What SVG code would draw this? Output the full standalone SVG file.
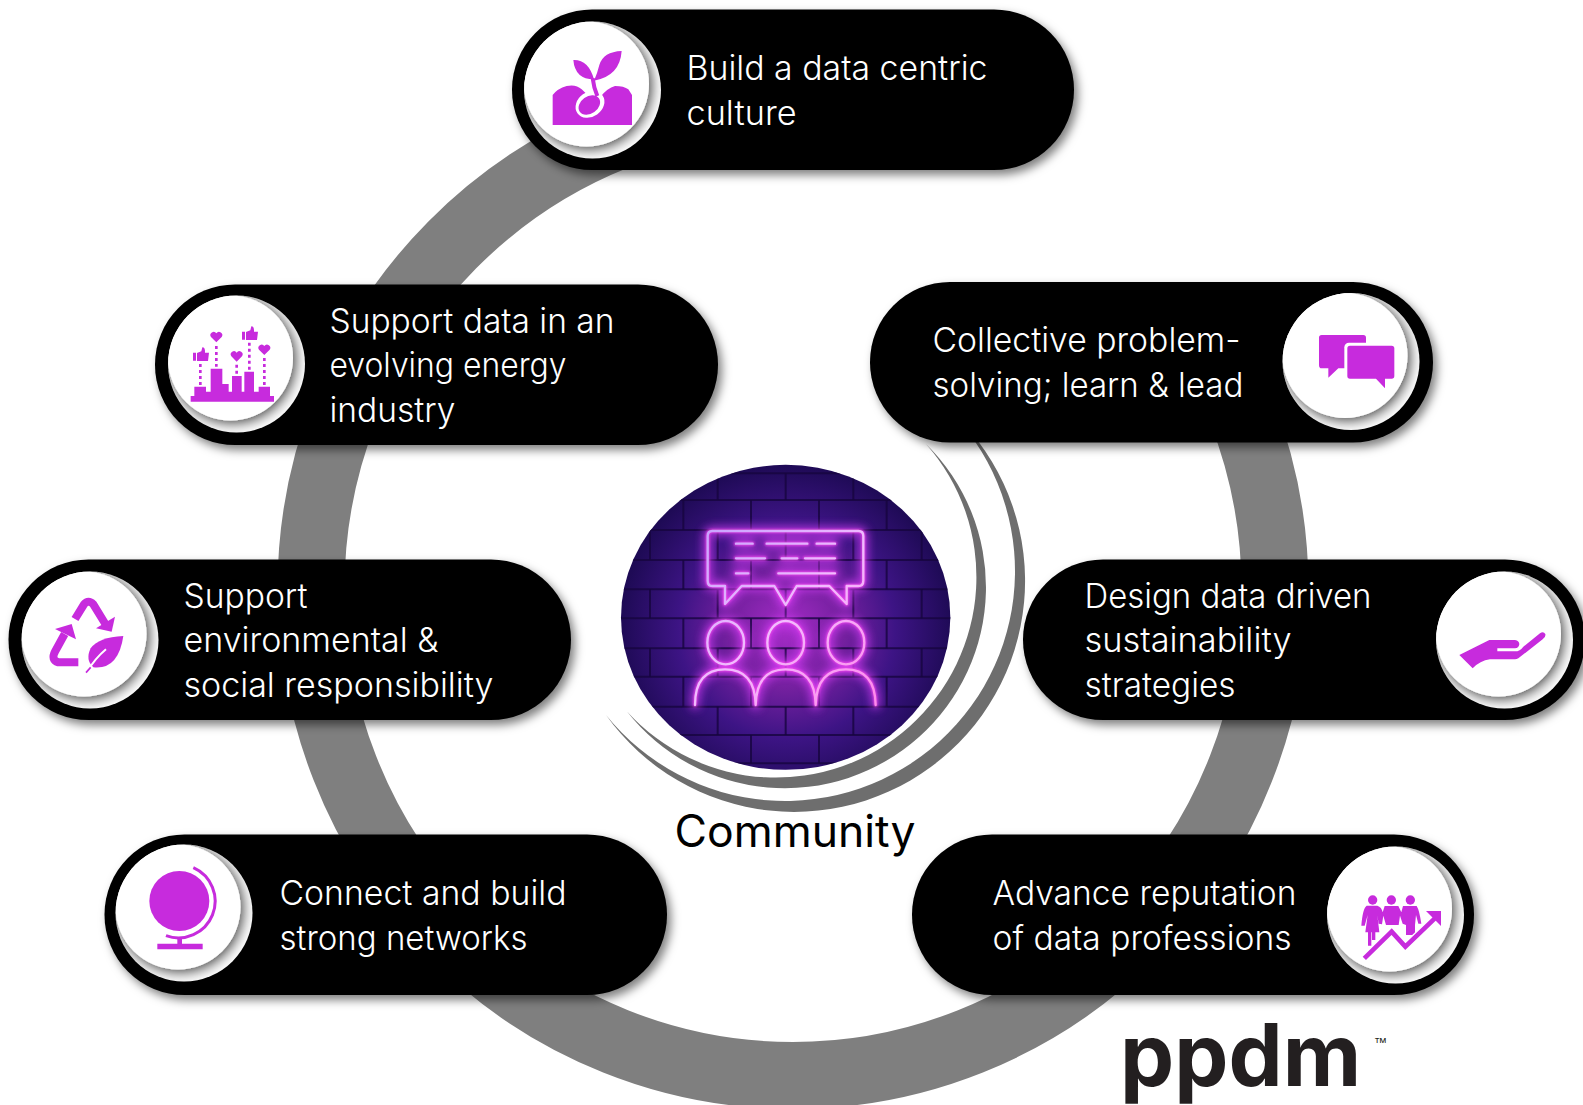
<svg xmlns="http://www.w3.org/2000/svg" width="1583" height="1105" viewBox="0 0 1583 1105">
<style>
.pill{fill:#000;filter:url(#pillShadow)}
.lbl{font-family:"Inter","Liberation Sans",sans-serif;font-weight:300;font-size:34px;fill:#fff}
.ic{fill:#c72bdd}
.ics{fill:none;stroke:#c72bdd}
.wh{fill:#fff}
.neon{fill:none;stroke-linecap:round;stroke-linejoin:round}
.brick{fill:none;stroke:#16053f;stroke-width:6;opacity:.8}
</style>
<defs>
<filter id="pillShadow" x="-10%" y="-20%" width="120%" height="150%"><feDropShadow dx="4" dy="5" stdDeviation="5" flood-color="#000" flood-opacity=".5"/></filter>
<filter id="discShadow" x="-30%" y="-30%" width="170%" height="170%"><feDropShadow dx="2" dy="2" stdDeviation="7" flood-color="#000" flood-opacity=".8"/></filter>
<filter id="soft" x="-5%" y="-5%" width="110%" height="110%"><feGaussianBlur stdDeviation=".7"/></filter>
<filter id="glow" x="-30%" y="-30%" width="160%" height="160%"><feGaussianBlur stdDeviation="14"/></filter>
<filter id="bl" x="-30%" y="-30%" width="160%" height="160%"><feGaussianBlur stdDeviation="3"/></filter>
<clipPath id="badgeClip"><circle r="68.5"/></clipPath>
<clipPath id="imgClip"><ellipse cx="587" cy="562" rx="494" ry="457.5"/></clipPath>
<clipPath id="ringClip"><path d="M0 0H700V360H1583V1105H0Z"/></clipPath>
<g id="badge"><circle r="68.5" class="wh"/><g clip-path="url(#badgeClip)"><circle cx="-6" cy="-6" r="62.5" class="wh" filter="url(#discShadow)"/></g></g>
<radialGradient id="wall" gradientUnits="userSpaceOnUse" cx="590" cy="600" r="500"><stop offset="0" stop-color="#a52cc8"/><stop offset=".35" stop-color="#74209f"/><stop offset=".65" stop-color="#3d1485"/><stop offset="1" stop-color="#1e0a55"/></radialGradient>
<linearGradient id="neonG" gradientUnits="userSpaceOnUse" x1="350" y1="300" x2="820" y2="830"><stop offset="0" stop-color="#c9a4ff"/><stop offset=".5" stop-color="#f2bcff"/><stop offset="1" stop-color="#ff8bec"/></linearGradient>
<g id="neonArt">
<path d="M367 303H805Q820 303 820 318V452Q820 468 805 468H770V522L718 468H620L587 525L553 468H455L405 522V468H367Q353 468 353 452V318Q353 303 367 303Z"/>
<path d="M438 341H488M530 341H652M680 341H735M438 385H525M575 385H622M645 385H735M438 430H475M565 430H735"/>
<ellipse cx="407" cy="638" rx="55" ry="65"/><ellipse cx="587" cy="638" rx="55" ry="65"/><ellipse cx="768" cy="638" rx="55" ry="65"/>
<path d="M315 825Q315 718 405 718Q495 718 497 825M497 825Q500 718 587 718Q675 718 677 825M677 825Q680 718 768 718Q855 718 857 825"/>
</g>
<path id="heart" d="M0 17L-16 1A9.5 9.5 0 0 1 0-10A9.5 9.5 0 0 1 16 1Z"/>
<path id="thumb" d="M-24-11H-15V13H-24ZM-12-10L1-15L4-27Q13-27 12-11H24L21 14H-12Z"/>
</defs>

<rect width="1583" height="1105" fill="#fff"/>

<g id="connectors">
<ellipse cx="793" cy="589" rx="482" ry="486.5" fill="none" stroke="#7f7f7f" stroke-width="67" clip-path="url(#ringClip)"/>
</g>

<g id="center-node">
<path d="M945 406A231 231 0 1 1 606 715A229.8 229.8 0 1 0 945 406Z" fill="#6e6e6e" filter="url(#soft)"/>
<path d="M926 444A201 201 0 1 1 627 711.5A200.6 200.6 0 0 0 926 444Z" fill="#6e6e6e" filter="url(#soft)"/>
<g transform="translate(590,430) scale(.33333)">
<g clip-path="url(#imgClip)">
<rect x="90" y="100" width="1000" height="925" fill="url(#wall)"/>
<path class="brick" d="M90 130H1090M90 210H1090M90 300H1090M90 390H1090M90 478H1090M90 565H1090M90 655H1090M90 740H1090M90 830H1090M90 915H1090M90 1000H1090"/>
<path class="brick" d="M383 130V210M587 130V210M790 130V210M280 210V300M483 210V300M687 210V300M890 210V300M180 300V390M383 300V390M587 300V390M790 300V390M995 300V390M280 390V478M483 390V478M687 390V478M890 390V478M180 478V565M383 478V565M587 478V565M790 478V565M995 478V565M280 565V655M483 565V655M687 565V655M890 565V655M180 655V740M383 655V740M587 655V740M790 655V740M995 655V740M280 740V830M483 740V830M687 740V830M890 740V830M383 830V915M587 830V915M790 830V915M483 915V1000M687 915V1000"/>
<use href="#neonArt" class="neon" stroke="#e040ff" stroke-width="26" opacity=".75" filter="url(#glow)"/>
<use href="#neonArt" class="neon" stroke="#ff50f0" stroke-width="12" opacity=".7" filter="url(#bl)"/>
<use href="#neonArt" class="neon" stroke="url(#neonG)" stroke-width="7"/>
</g>
</g>
<text x="795" y="847" text-anchor="middle" font-family="Inter,'Liberation Sans',sans-serif" font-size="44.5" fill="#000">Community</text>
</g>

<g id="node-build">
<rect class="pill" x="512" y="9.5" width="562" height="160.5" rx="80"/>
<use href="#badge" x="592.5" y="90"/>
<g transform="translate(500,0) scale(.33333)">
<path class="ic" d="M158 375V285Q172 266 200 258Q228 252 245 268L270 292H300Q322 264 345 258Q372 258 385 268L396 285V375Z"/>
<path d="M280 240Q284 265 292 282" fill="none" stroke="#fff" stroke-width="22"/>
<ellipse cx="270" cy="313" rx="46" ry="37" transform="rotate(-35 270 313)" class="wh"/>
<ellipse cx="268" cy="315" rx="35" ry="26" transform="rotate(-35 268 315)" class="ic"/>
<path d="M278 235Q281 262 292 288" fill="none" stroke="#c72bdd" stroke-width="12"/>
<path class="ic" d="M220 180Q265 178 282 238Q225 238 220 180ZM365 153Q310 155 298 195Q292 220 282 242Q360 228 365 153Z"/>
</g>
<text class="lbl" x="686.5" y="79.5" textLength="301" lengthAdjust="spacingAndGlyphs">Build a data centric</text>
<text class="lbl" x="686.5" y="124.5" textLength="110" lengthAdjust="spacingAndGlyphs">culture</text>
</g>

<g id="node-energy">
<rect class="pill" x="155" y="284.5" width="563" height="160.5" rx="80"/>
<use href="#badge" x="236.5" y="364"/>
<g transform="translate(150,280) scale(.33333)">
<path class="ic" d="M122 348H133V320H168V335H182V266H217V312H236V335H246V288H275V335H283V275H312V335H326V320H360V348H372V365H122Z"/>
<path class="ics" stroke-width="8" stroke-dasharray="9 9" d="M151 252V315M199 198V260M260 254V282M298 188V270M343 234V315"/>
<use href="#heart" class="ic" x="199" y="170"/><use href="#heart" class="ic" x="260" y="228"/><use href="#heart" class="ic" x="343" y="208"/>
<use href="#thumb" class="ic" x="153" y="229"/><use href="#thumb" class="ic" x="300" y="166"/>
</g>
<text class="lbl" x="329.5" y="333" textLength="285" lengthAdjust="spacingAndGlyphs">Support data in an</text>
<text class="lbl" x="329.5" y="377" textLength="237" lengthAdjust="spacingAndGlyphs">evolving energy</text>
<text class="lbl" x="329.5" y="421.5" textLength="126" lengthAdjust="spacingAndGlyphs">industry</text>
</g>

<g id="node-collective">
<rect class="pill" x="870" y="282" width="563" height="160.5" rx="80"/>
<use href="#badge" x="1351" y="361.5"/>
<g transform="translate(1250,280) scale(.33333)">
<path class="ic" d="M215 165H340Q348 165 348 173V255Q348 265 340 265H265L235 293V265H215Q207 265 207 255V173Q207 165 215 165Z"/>
<rect class="wh" x="283" y="188" width="157" height="115" rx="14"/>
<path class="ic" d="M300 197H425Q433 197 433 205V288Q433 296 425 296H405V325L378 296H300Q292 296 292 288V205Q292 197 300 197Z"/>
</g>
<text class="lbl" x="932.5" y="352" textLength="308" lengthAdjust="spacingAndGlyphs">Collective problem-</text>
<text class="lbl" x="932.5" y="396.5" textLength="311" lengthAdjust="spacingAndGlyphs">solving; learn &amp; lead</text>
</g>

<g id="node-design">
<rect class="pill" x="1023" y="559.5" width="562" height="160.5" rx="80"/>
<use href="#badge" x="1504.5" y="640"/>
<g transform="translate(1400,550) scale(.33333)">
<path class="ic" d="M178 315L268 270H345Q358 272 358 283Q356 295 345 295H292V304H345Q360 304 370 290L420 250Q430 242 436 252Q438 262 428 268L355 325Q350 328 345 328H270Q240 332 218 355Z"/>
</g>
<text class="lbl" x="1084.5" y="608" textLength="287" lengthAdjust="spacingAndGlyphs">Design data driven</text>
<text class="lbl" x="1084.5" y="652" textLength="207" lengthAdjust="spacingAndGlyphs">sustainability</text>
<text class="lbl" x="1084.5" y="697" textLength="151" lengthAdjust="spacingAndGlyphs">strategies</text>
</g>

<g id="node-environment">
<rect class="pill" x="8.5" y="559.5" width="562.5" height="160.5" rx="80"/>
<use href="#badge" x="90" y="640"/>
<g transform="translate(0,550) scale(.33333)">
<path class="ics" stroke-width="24" stroke-linejoin="round" d="M225 207L252 163Q265 148 280 163L318 225"/>
<path class="ic" d="M345 200L335 245L288 235Z"/>
<path class="ics" stroke-width="24" stroke-linejoin="round" d="M235 337H175Q152 330 165 305L194 252"/>
<path class="ic" d="M165 237L215 222L228 268Z"/>
<path class="ic" d="M370 258Q295 262 272 295Q255 330 280 352Q355 360 370 258Z"/>
<path d="M258 370Q285 325 318 298" fill="none" stroke="#fff" stroke-width="6"/>
<path d="M258 368L272 352" fill="none" stroke="#c72bdd" stroke-width="5"/>
</g>
<text class="lbl" x="183.5" y="608" textLength="124" lengthAdjust="spacingAndGlyphs">Support</text>
<text class="lbl" x="183.5" y="652" textLength="255" lengthAdjust="spacingAndGlyphs">environmental &amp;</text>
<text class="lbl" x="183.5" y="697" textLength="310" lengthAdjust="spacingAndGlyphs">social responsibility</text>
</g>

<g id="node-connect">
<rect class="pill" x="104.5" y="834.5" width="562.5" height="160.5" rx="80"/>
<use href="#badge" x="184" y="913"/>
<g transform="translate(100,825) scale(.33333)">
<circle class="ic" cx="238" cy="228" r="90"/>
<path class="ics" stroke-width="9" d="M280 128A110 110 0 0 1 198 332"/>
<path class="ic" d="M232 338H246V356H308V373H172V356H232Z"/>
</g>
<text class="lbl" x="279.5" y="904.5" textLength="287" lengthAdjust="spacingAndGlyphs">Connect and build</text>
<text class="lbl" x="279.5" y="949.5" textLength="248" lengthAdjust="spacingAndGlyphs">strong networks</text>
</g>

<g id="node-advance">
<rect class="pill" x="912" y="834.5" width="562" height="160.5" rx="80"/>
<use href="#badge" x="1395.5" y="915"/>
<g transform="translate(1300,825) scale(.33333)">
<circle class="ic" cx="218" cy="225" r="14"/><circle class="ic" cx="274" cy="225" r="14"/><circle class="ic" cx="331" cy="225" r="14"/>
<path class="ic" d="M200 242H232Q245 246 248 262L254 243H295L304 262L309 243H350Q358 255 364 296H355L348 270L345 300V330H318V300L308 296L300 272L296 300H258L250 272L246 298L236 296L232 270L238 322H226V345H216V322H214V362H204V322H196L203 270L194 302H184Q188 250 200 242Z"/>
<path d="M193 400L275 320L316 365L410 275" fill="none" stroke="#fff" stroke-width="22"/>
<path d="M193 400L275 320L316 365L410 275" fill="none" stroke="#c72bdd" stroke-width="14"/>
<path class="ic" d="M378 258H423V303Z"/>
</g>
<text class="lbl" x="992.5" y="904.5" textLength="304" lengthAdjust="spacingAndGlyphs">Advance reputation</text>
<text class="lbl" x="992.5" y="949.5" textLength="299" lengthAdjust="spacingAndGlyphs">of data professions</text>
</g>

<g id="logo">
<text x="1120" y="1086" font-family="Inter,'Liberation Sans',sans-serif" font-weight="700" font-size="86" fill="#231f20">ppdm</text>
<text x="1374" y="1047" font-family="'Liberation Sans',sans-serif" font-size="13" fill="#231f20">™</text>
</g>
</svg>
